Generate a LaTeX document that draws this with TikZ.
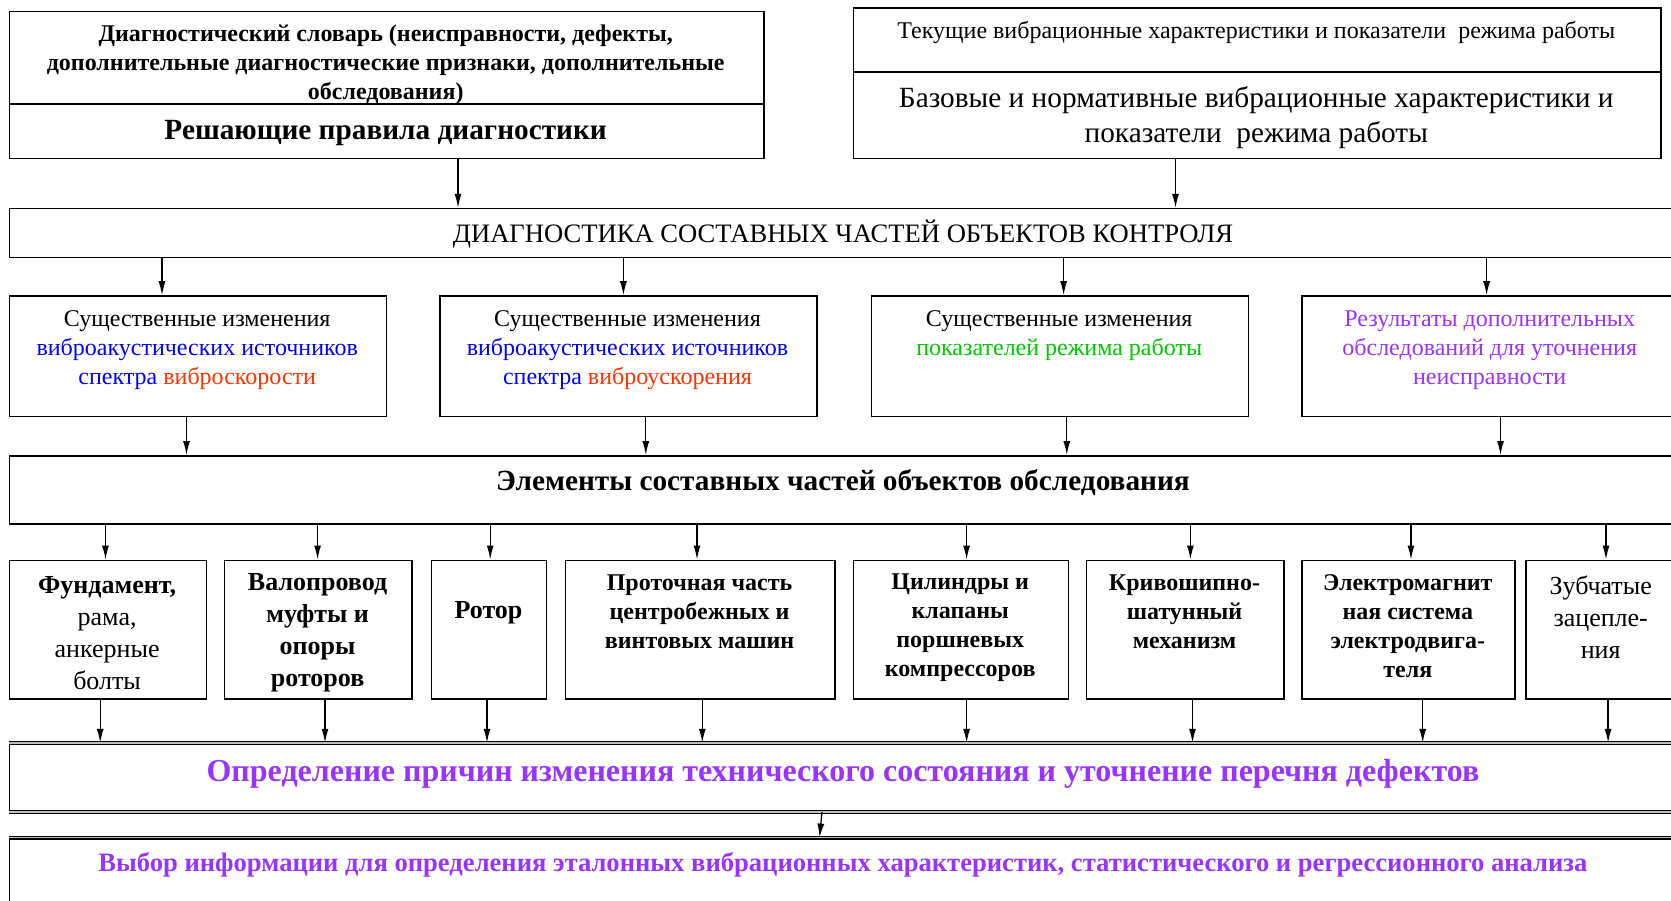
\documentclass[tikz,border=0pt]{standalone}
\usepackage{fontspec}
\setmainfont{Liberation Serif}
\usepackage{tikz}
\usetikzlibrary{arrows.meta, positioning, calc}
\definecolor{dgBlue}{HTML}{0000FF}
\definecolor{dgRed}{HTML}{FF3300}
\definecolor{dgGreen}{HTML}{00C800}
\definecolor{dgViolet}{HTML}{9933FF}
\newcommand{\dgsize}[2]{\fontsize{#1}{#2}\selectfont}

\begin{document}
\begin{tikzpicture}[x=1pt, y=-1pt,
  box/.style={draw, line width=1.5pt, anchor=north west, inner sep=0pt},
  txt/.style={align=center, inner sep=0pt},
  dbl/.style={line width=1.4pt, double=gray!50, double distance=1.4pt},
  arr/.style={line width=1.3pt, -{Latex[length=14pt, width=7pt]}}]
  \useasboundingbox (0,0) rectangle (1671,901);
  % top row
  \node[box, minimum width=754.5pt, minimum height=92.7pt] (slovar) at (8.5,10.7) {};
  \node[box, minimum width=754.5pt, minimum height=54.3pt] (pravila) at (8.5,103.4) {};
  \node[box, minimum width=807.4pt, minimum height=63.9pt] (tekush) at (852.6,7.5) {};
  \node[box, minimum width=807.4pt, minimum height=86.3pt] (bazov) at (852.6,71.4) {};
  \node[txt, font=\dgsize{24}{29}\bfseries] (t-slovar) at (385.7,65)
    {Диагностический словарь (неисправности, дефекты,\\
     дополнительные диагностические признаки, дополнительные\\
     обследования)};
  \node[txt, font=\dgsize{29.3}{35}\bfseries] (t-pravila) at (385.7,133.5) {Решающие правила диагностики};
  \node[txt, font=\dgsize{24}{28}] (t-tekush) at (1256.3,33) {Текущие вибрационные характеристики и показатели\ \ режима работы};
  \node[txt, font=\dgsize{29.3}{35}] (t-bazov) at (1256.3,117.8)
    {Базовые и нормативные вибрационные характеристики и\\ показатели\ \ режима работы};
  % diagnostics
  \node[box, minimum width=1669.5pt, minimum height=49pt] (diag) at (8.5,207.8) {};
  \node[txt, font=\dgsize{26.6}{30}] (t-diag) at (843,234.5) {ДИАГНОСТИКА СОСТАВНЫХ ЧАСТЕЙ ОБЪЕКТОВ КОНТРОЛЯ};
  % changes
  \node[box, minimum width=377pt, minimum height=120.4pt] (skor) at (8.5,295.2) {};
  \node[box, minimum width=377pt, minimum height=120.4pt] (uskor) at (439,295.2) {};
  \node[box, minimum width=377pt, minimum height=120.4pt] (rezhim) at (870.7,295.2) {};
  \node[box, minimum width=377pt, minimum height=120.4pt] (dopoln) at (1301,295.2) {};
  \node[txt, font=\dgsize{24}{29}] (t-skor) at (197.2,349.7)
    {Существенные изменения\\ \textcolor{dgBlue}{виброакустических источников}\\
     \textcolor{dgBlue}{спектра} \textcolor{dgRed}{виброскорости}};
  \node[txt, font=\dgsize{24}{29}] (t-uskor) at (627.5,349.7)
    {Существенные изменения\\ \textcolor{dgBlue}{виброакустических источников}\\
     \textcolor{dgBlue}{спектра} \textcolor{dgRed}{виброускорения}};
  \node[txt, font=\dgsize{24}{29}] (t-rezhim) at (1059.2,335.2)
    {Существенные изменения\\ \textcolor{dgGreen}{показателей режима работы}};
  \node[txt, font=\dgsize{24}{29}, text=dgViolet] (t-dopoln) at (1489.7,349.7)
    {Результаты дополнительных\\ обследований для уточнения\\ неисправности};
  % elements
  \node[box, minimum width=1669.5pt, minimum height=68.3pt] (elem) at (8.5,455) {};
  \node[txt, font=\dgsize{29.3}{34}\bfseries] (t-elem) at (843,483) {Элементы составных частей объектов обследования};
  \node[box, minimum width=197.2pt, minimum height=138.5pt] (fund) at (8.5,559.5) {};
  \node[box, minimum width=187.6pt, minimum height=138.5pt] (val) at (223.8,559.5) {};
  \node[box, minimum width=115.1pt, minimum height=138.5pt] (rotor) at (430.5,559.5) {};
  \node[box, minimum width=269.6pt, minimum height=138.5pt] (protoch) at (564.8,559.5) {};
  \node[box, minimum width=215.2pt, minimum height=138.5pt] (cilindr) at (852.6,559.5) {};
  \node[box, minimum width=197.2pt, minimum height=138.5pt] (krivosh) at (1085.9,559.5) {};
  \node[box, minimum width=213.2pt, minimum height=138.5pt] (elmag) at (1301.2,559.5) {};
  \node[box, minimum width=151pt, minimum height=138.5pt] (zub) at (1525,559.5) {};
  \node[txt, font=\dgsize{26}{32}] (t-fund) at (107.1,633) {\textbf{Фундамент,}\\ рама,\\ анкерные\\ болты};
  \node[txt, font=\dgsize{26}{32}\bfseries] (t-val) at (317.6,633) {Валопровод\\ муфты и\\ опоры\\ роторов};
  \node[txt, font=\dgsize{26}{32}\bfseries] (t-rotor) at (488.5,612.7) {Ротор};
  \node[txt, font=\dgsize{24}{29}\bfseries] (t-protoch) at (699.6,611.7) {Проточная часть\\ центробежных и\\ винтовых машин};
  \node[txt, font=\dgsize{24}{29}\bfseries] (t-cilindr) at (960.2,628) {Цилиндры и\\ клапаны\\ поршневых\\ компрессоров};
  \node[txt, font=\dgsize{24}{29}\bfseries] (t-krivosh) at (1184.5,611.7) {Кривошипно-\\ шатунный\\ механизм};
  \node[txt, font=\dgsize{24}{29}\bfseries] (t-elmag) at (1407.8,626) {Электромагнит\\ ная система\\ электродвига-\\ теля};
  \node[txt, font=\dgsize{26}{32}] (t-zub) at (1600.7,617) {Зубчатые\\ зацепле-\\ ния};
  % results
  \node[draw, line width=0.8pt, anchor=north west, minimum width=1669.5pt, minimum height=68.2pt] (prichin) at (8.5,742.8) {};
  \node[draw, line width=0.8pt, anchor=north west, minimum width=1669.5pt, minimum height=90pt] (vybor) at (8.5,837.6) {};
  \draw[dbl] (prichin.north west) -- (prichin.north east);
  \draw[dbl] (prichin.south west) -- (prichin.south east);
  \draw[dbl] (vybor.north west) -- (vybor.north east);
  \node[txt, font=\dgsize{32}{36}\bfseries, text=dgViolet] (t-prichin) at (843,773.7)
    {Определение причин изменения технического состояния и уточнение перечня дефектов};
  \node[txt, font=\dgsize{26.6}{30}\bfseries, text=dgViolet] (t-vybor) at (843,865.3)
    {Выбор информации для определения эталонных вибрационных характеристик, статистического и регрессионного анализа};
  % connectors
  \draw[arr] (pravila.south -| 458,0) -- (diag.north -| 458,0);
  \draw[arr] (bazov.south -| 1175.5,0) -- (diag.north -| 1175.5,0);
  \draw[arr] (diag.south -| 162,0) -- (skor.north -| 162,0);
  \draw[arr] (diag.south -| 623.4,0) -- (uskor.north -| 623.4,0);
  \draw[arr] (diag.south -| 1063.6,0) -- (rezhim.north -| 1063.6,0);
  \draw[arr] (diag.south -| 1486.6,0) -- (dopoln.north -| 1486.6,0);
  \draw[arr] (skor.south -| 186.5,0) -- (elem.north -| 186.5,0);
  \draw[arr] (uskor.south -| 645.8,0) -- (elem.north -| 645.8,0);
  \draw[arr] (rezhim.south -| 1066.8,0) -- (elem.north -| 1066.8,0);
  \draw[arr] (dopoln.south -| 1500.5,0) -- (elem.north -| 1500.5,0);
  \draw[arr] (elem.south -| 105.5,0) -- (fund.north -| 105.5,0);
  \draw[arr] (elem.south -| 317.6,0) -- (val.north -| 317.6,0);
  \draw[arr] (elem.south -| 490.2,0) -- (rotor.north -| 490.2,0);
  \draw[arr] (elem.south -| 697,0) -- (protoch.north -| 697,0);
  \draw[arr] (elem.south -| 966.6,0) -- (cilindr.north -| 966.6,0);
  \draw[arr] (elem.south -| 1190.4,0) -- (krivosh.north -| 1190.4,0);
  \draw[arr] (elem.south -| 1411,0) -- (elmag.north -| 1411,0);
  \draw[arr] (elem.south -| 1606,0) -- (zub.north -| 1606,0);
  \draw[arr] (fund.south -| 100.2,0) -- (prichin.north -| 100.2,0);
  \draw[arr] (val.south -| 325,0) -- (prichin.north -| 325,0);
  \draw[arr] (rotor.south -| 487,0) -- (prichin.north -| 487,0);
  \draw[arr] (protoch.south -| 702.3,0) -- (prichin.north -| 702.3,0);
  \draw[arr] (cilindr.south -| 966.6,0) -- (prichin.north -| 966.6,0);
  \draw[arr] (krivosh.south -| 1192.5,0) -- (prichin.north -| 1192.5,0);
  \draw[arr] (elmag.south -| 1422.7,0) -- (prichin.north -| 1422.7,0);
  \draw[arr] (zub.south -| 1608.1,0) -- (prichin.north -| 1608.1,0);
  \draw[arr] (prichin.south -| 822,0) -- (vybor.north -| 819.5,0);
\end{tikzpicture}
\end{document}
